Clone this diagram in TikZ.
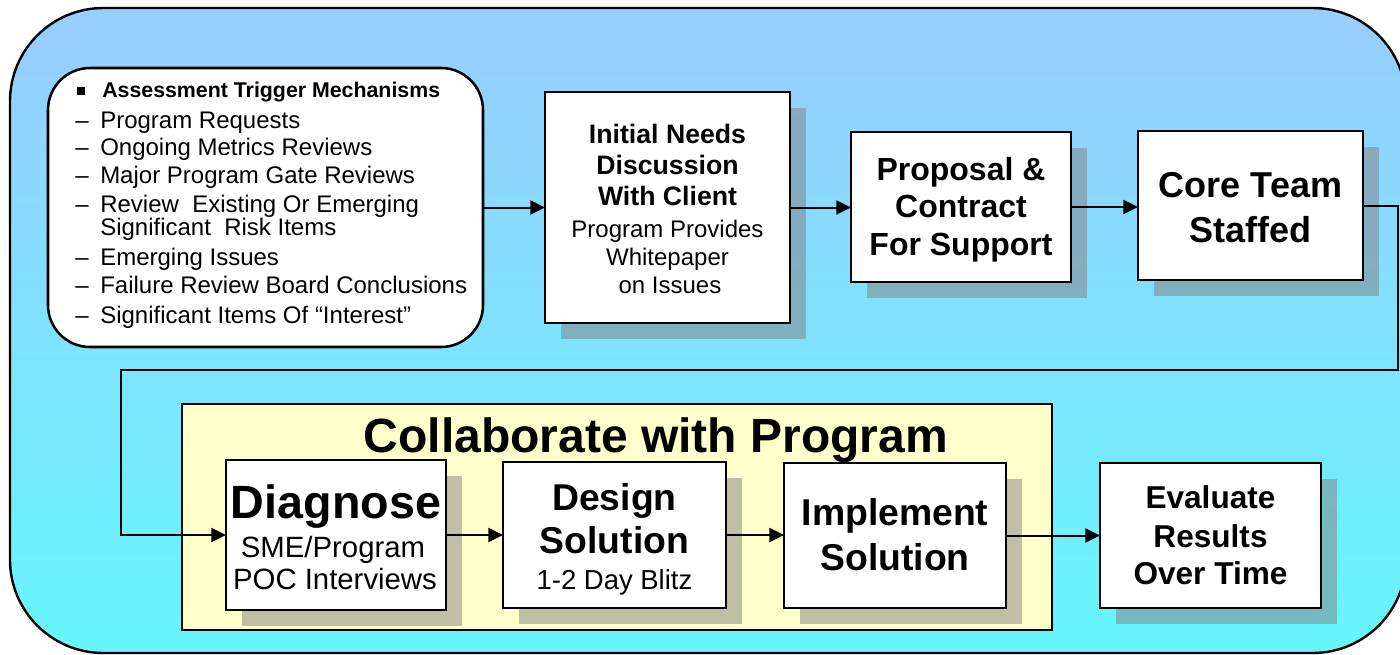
\documentclass[tikz,border=0pt]{standalone}
\usepackage{fontspec}
\setmainfont{Liberation Sans}
\usetikzlibrary{arrows.meta,shadows}
\definecolor{topblue}{RGB}{153,204,255}
\definecolor{botcyan}{RGB}{102,247,252}
\definecolor{paleyellow}{RGB}{255,255,204}
\newcommand\trigitem[1]{\makebox[18.75pt][l]{–}#1}
\begin{document}
\begin{tikzpicture}[x=0.75pt,y=-0.75pt,
 box/.style={draw, line width=2.2pt, fill=white, inner sep=0pt, outer sep=0pt,
   drop shadow={shadow xshift=12pt, shadow yshift=-12pt, fill=black!50, opacity=0.5}},
 txt/.style={inner sep=0pt, anchor=base},
 lst/.style={inner sep=0pt, anchor=base west, font=\fontsize{18}{21}\selectfont},
 conn/.style={line width=1.5pt, -{Triangle[length=11pt,width=10.5pt]}}]
\useasboundingbox (0,0) rectangle (1400,654);
% outer background
\path[draw=black, line width=1.8pt, rounded corners=70pt, top color=topblue, bottom color=botcyan]
  (10,8) rectangle (1406,653);
% trigger box
\node[draw, line width=1.9pt, fill=white, rounded corners=31.5pt, inner sep=0pt, outer sep=0pt,
  minimum width=326.25pt, minimum height=209.25pt] (trig) at (265.5,207.5) {};
\node[fill=black, inner sep=0pt, minimum size=6pt] (bul) at (81,91) {};
\node[txt, anchor=base west, font=\bfseries\fontsize{16}{19}\selectfont] (hd) at (102,97) {Assessment Trigger Mechanisms};
\node[lst] (i1) at (75,128) {\trigitem{Program Requests}};
\node[lst] (i2) at (75,155) {\trigitem{Ongoing Metrics Reviews}};
\node[lst] (i3) at (75,183) {\trigitem{Major Program Gate Reviews}};
\node[lst] (i4) at (75,212) {\trigitem{Review\ \ Existing Or Emerging}};
\node[lst] (i4b) at (75,235) {\hspace*{18.75pt}Significant\ \ Risk Items};
\node[lst] (i5) at (75,265) {\trigitem{Emerging Issues}};
\node[lst] (i6) at (75,293) {\trigitem{Failure Review Board Conclusions}};
\node[lst] (i7) at (75,323) {\trigitem{Significant Items Of “Interest”}};
% collaborate box
\node[draw, line width=1.5pt, fill=paleyellow, inner sep=0pt, outer sep=0pt,
  minimum width=652.5pt, minimum height=169.5pt] (collab) at (617,517) {};
\node[txt, font=\bfseries\fontsize{36}{40}\selectfont] (collabt) at (656,452) {Collaborate with Program};
% process boxes
\node[box, minimum width=183.75pt, minimum height=173.25pt] (init) at (667.5,207.5) {};
\node[box, minimum width=165pt, minimum height=112.5pt] (prop) at (961,207) {};
\node[box, minimum width=168.75pt, minimum height=111.75pt] (core) at (1250.5,205.5) {};
\node[box, minimum width=165pt, minimum height=112.5pt] (diag) at (336,535) {};
\node[box, minimum width=167.25pt, minimum height=109.5pt] (design) at (614.5,535) {};
\node[box, minimum width=166.5pt, minimum height=108.75pt] (impl) at (895,535.5) {};
\node[box, minimum width=165.75pt, minimum height=108.75pt] (eval) at (1210.5,535.5) {};
% texts
\begin{scope}[every node/.style={txt}]
\node[font=\bfseries\fontsize{20}{24}\selectfont] (ia) at (667.5,143) {Initial Needs};
\node[font=\bfseries\fontsize{20}{24}\selectfont] (ib) at (667.5,174) {Discussion};
\node[font=\bfseries\fontsize{20}{24}\selectfont] (ic) at (667.5,205) {With Client};
\node[font=\fontsize{18}{21}\selectfont] (id) at (667.5,237) {Program Provides};
\node[font=\fontsize{18}{21}\selectfont] (ie) at (667.5,265) {Whitepaper};
\node[font=\fontsize{18}{21}\selectfont] (if) at (670,293) {on Issues};
\node[font=\bfseries\fontsize{24}{28}\selectfont] (pa) at (961,180) {Proposal \&};
\node[font=\bfseries\fontsize{24}{28}\selectfont] (pb) at (961,217) {Contract};
\node[font=\bfseries\fontsize{24}{28}\selectfont] (pc) at (961,255) {For Support};
\node[font=\bfseries\fontsize{27}{32}\selectfont] (ca) at (1250.5,197) {Core Team};
\node[font=\bfseries\fontsize{27}{32}\selectfont] (cb) at (1250.5,242) {Staffed};
\node[font=\bfseries\fontsize{35}{40}\selectfont] (da) at (336,518) {Diagnose};
\node[font=\fontsize{22}{26}\selectfont] (db) at (333,557) {SME/Program};
\node[font=\fontsize{22}{26}\selectfont] (dc) at (335,589) {POC Interviews};
\node[font=\bfseries\fontsize{28}{32}\selectfont] (sa) at (614.5,510) {Design};
\node[font=\bfseries\fontsize{28}{32}\selectfont] (sb) at (614.5,553) {Solution};
\node[font=\fontsize{20.6}{24}\selectfont] (sc) at (614.5,589) {1-2 Day Blitz};
\node[font=\bfseries\fontsize{28}{32}\selectfont] (ma) at (895,525) {Implement};
\node[font=\bfseries\fontsize{28}{32}\selectfont] (mb) at (895,570) {Solution};
\node[font=\bfseries\fontsize{23.7}{28}\selectfont] (ea) at (1210.5,508) {Evaluate};
\node[font=\bfseries\fontsize{23.7}{28}\selectfont] (eb) at (1210.5,547) {Results};
\node[font=\bfseries\fontsize{23.7}{28}\selectfont] (ec) at (1210.5,584) {Over Time};
\end{scope}
% connectors
\coordinate (c1) at (1398,370);
\coordinate (c2) at (121,370);
\draw[conn] (trig.east) -- (init.west);
\draw[conn] (init.east) -- (init.east -| prop.west);
\draw[conn] (prop.east) -- (prop.east -| core.west);
\draw[conn] (core.east) -| (c1) -- (c2) |- (diag.west);
\draw[conn] (diag.east) -- (design.west);
\draw[conn] (design.east) -- (design.east -| impl.west);
\draw[conn] (impl.east) -- (impl.east -| eval.west);
\end{tikzpicture}
\end{document}
